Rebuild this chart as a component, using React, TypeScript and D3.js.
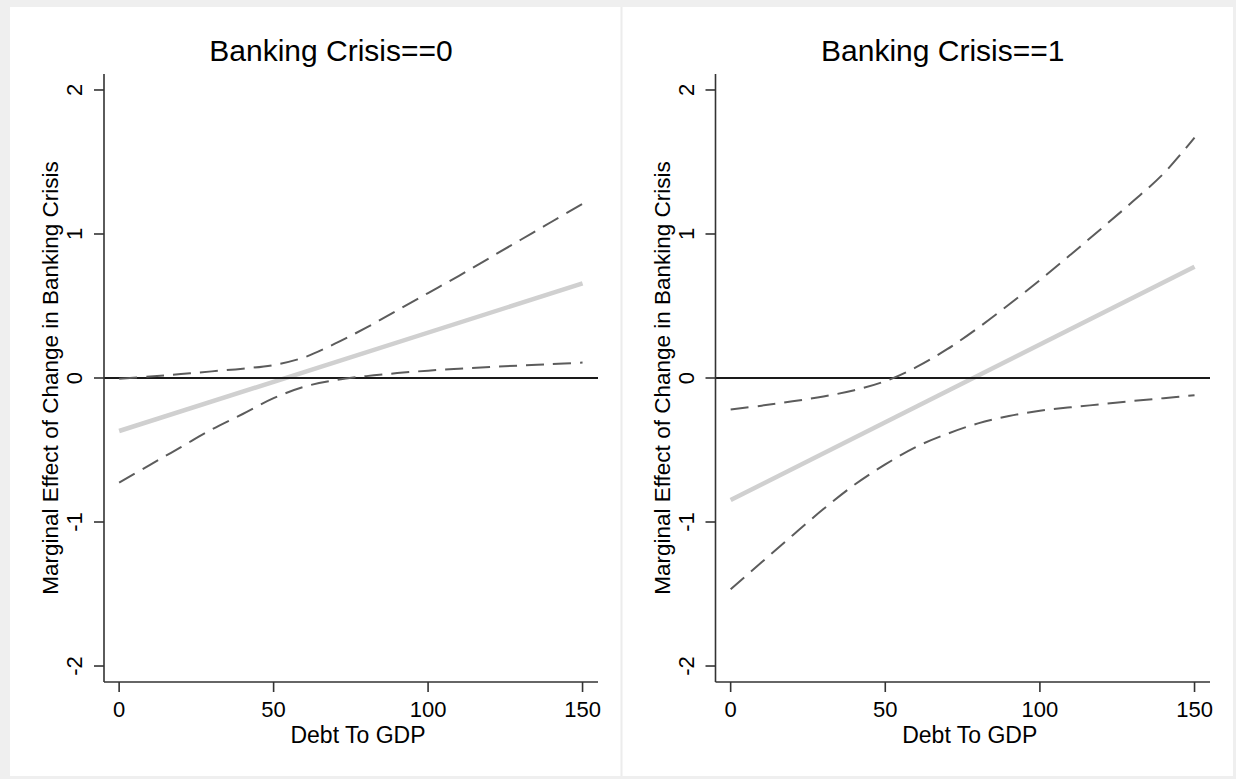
import * as d3 from 'd3';

// Debt to GDP grid the confidence bands are read at
const debtGrid = [0, 10, 20, 30, 40, 50, 60, 70, 80, 90, 100, 110, 120, 130, 140, 150];

// Banking Crisis == 0
const upper0 = [-0.005, 0.01, 0.028, 0.046, 0.065, 0.09, 0.144, 0.24, 0.35, 0.47, 0.59, 0.71, 0.835, 0.96, 1.085, 1.21];
const lower0 = [-0.727, -0.603, -0.48, -0.357, -0.25, -0.14, -0.06, -0.015, 0.013, 0.034, 0.051, 0.064, 0.076, 0.087, 0.097, 0.107];

// Banking Crisis == 1
const upper1 = [-0.218, -0.192, -0.162, -0.128, -0.085, -0.022, 0.075, 0.2, 0.348, 0.51, 0.68, 0.858, 1.04, 1.225, 1.42, 1.67];
const lower1 = [-1.467, -1.28, -1.093, -0.91, -0.742, -0.6, -0.478, -0.388, -0.315, -0.264, -0.227, -0.203, -0.182, -0.16, -0.14, -0.12];

// fitted marginal effect (straight line), endpoints
const fitDebt = [0, 150];
const fit0 = [-0.368, 0.657];
const fit1 = [-0.847, 0.773];

const xTicks = [0, 50, 100, 150];
const yTicks = [-2, -1, 0, 1, 2];

const W = 1236;
const H = 779;
const FONT = '"Liberation Sans", Arial, Helvetica, sans-serif';

type Pt = [number, number];

function Panel({ title, left, right, upper, lower, fit }: {
  title: string; left: number; right: number;
  upper: number[]; lower: number[]; fit: number[];
}) {
  const top = 74;
  const bottom = 682;
  const x = d3.scaleLinear().domain([-4.9, 155]).range([left, right]);
  const y = d3.scaleLinear().domain([-2.111, 2.111]).range([bottom, top]);

  const line = d3.line<Pt>()
    .x(d => x(d[0]))
    .y(d => y(d[1]))
    .curve(d3.curveCatmullRom.alpha(0.5));

  const up: Pt[] = debtGrid.map((d, i) => [d, upper[i]]);
  const lo: Pt[] = debtGrid.map((d, i) => [d, lower[i]]);
  const ft: Pt[] = fitDebt.map((d, i) => [d, fit[i]]);
  const mid = (left + right) / 2;

  return (
    <g>
      <text x={mid - 20} y={61} textAnchor="middle" fontSize={30} fontFamily={FONT}>{title}</text>

      <path d={line(ft) ?? ''} fill="none" stroke="#d0d0d0" strokeWidth={4.5} />
      <line x1={left} x2={right} y1={y(0)} y2={y(0)} stroke="#1a1a1a" strokeWidth={2} />
      <path d={line(up) ?? ''} fill="none" stroke="#5c5c5c" strokeWidth={2} strokeDasharray="18 9" />
      <path d={line(lo) ?? ''} fill="none" stroke="#5c5c5c" strokeWidth={2} strokeDasharray="18 9" />

      {/* y axis */}
      <line x1={left} x2={left} y1={top} y2={bottom} stroke="#333" strokeWidth={1.6} />
      {yTicks.map(t => (
        <g key={t}>
          <line x1={left - 10} x2={left} y1={y(t)} y2={y(t)} stroke="#333" strokeWidth={1.6} />
          <text transform={`translate(${left - 22},${y(t)}) rotate(-90)`} textAnchor="middle"
            fontSize={22} fontFamily={FONT}>{t}</text>
        </g>
      ))}
      <text transform={`translate(${left - 46},${y(0)}) rotate(-90)`} textAnchor="middle"
        fontSize={22.5} fontFamily={FONT}>Marginal Effect of Change in Banking Crisis</text>

      {/* x axis */}
      <line x1={left} x2={right} y1={bottom} y2={bottom} stroke="#333" strokeWidth={1.6} />
      {xTicks.map(t => (
        <g key={t}>
          <line x1={x(t)} x2={x(t)} y1={bottom} y2={bottom + 10} stroke="#333" strokeWidth={1.6} />
          <text x={x(t)} y={717} textAnchor="middle" fontSize={22} fontFamily={FONT}>{t}</text>
        </g>
      ))}
      <text x={mid + 7} y={743} textAnchor="middle" fontSize={23} fontFamily={FONT}>Debt To GDP</text>
    </g>
  );
}

export default function App() {
  return (
    <svg width={W} height={H} style={{ position: 'absolute', left: 0, top: 0 }}>
      <rect x={0} y={0} width={W} height={H} fill="#efefef" />
      <rect x={10} y={7} width={1223} height={769} fill="#ffffff" />
      <line x1={621.5} x2={621.5} y1={7} y2={776} stroke="#ececec" strokeWidth={2} />
      <Panel title="Banking Crisis==0" left={104} right={598} upper={upper0} lower={lower0} fit={fit0} />
      <Panel title="Banking Crisis==1" left={715.5} right={1210} upper={upper1} lower={lower1} fit={fit1} />
    </svg>
  );
}
